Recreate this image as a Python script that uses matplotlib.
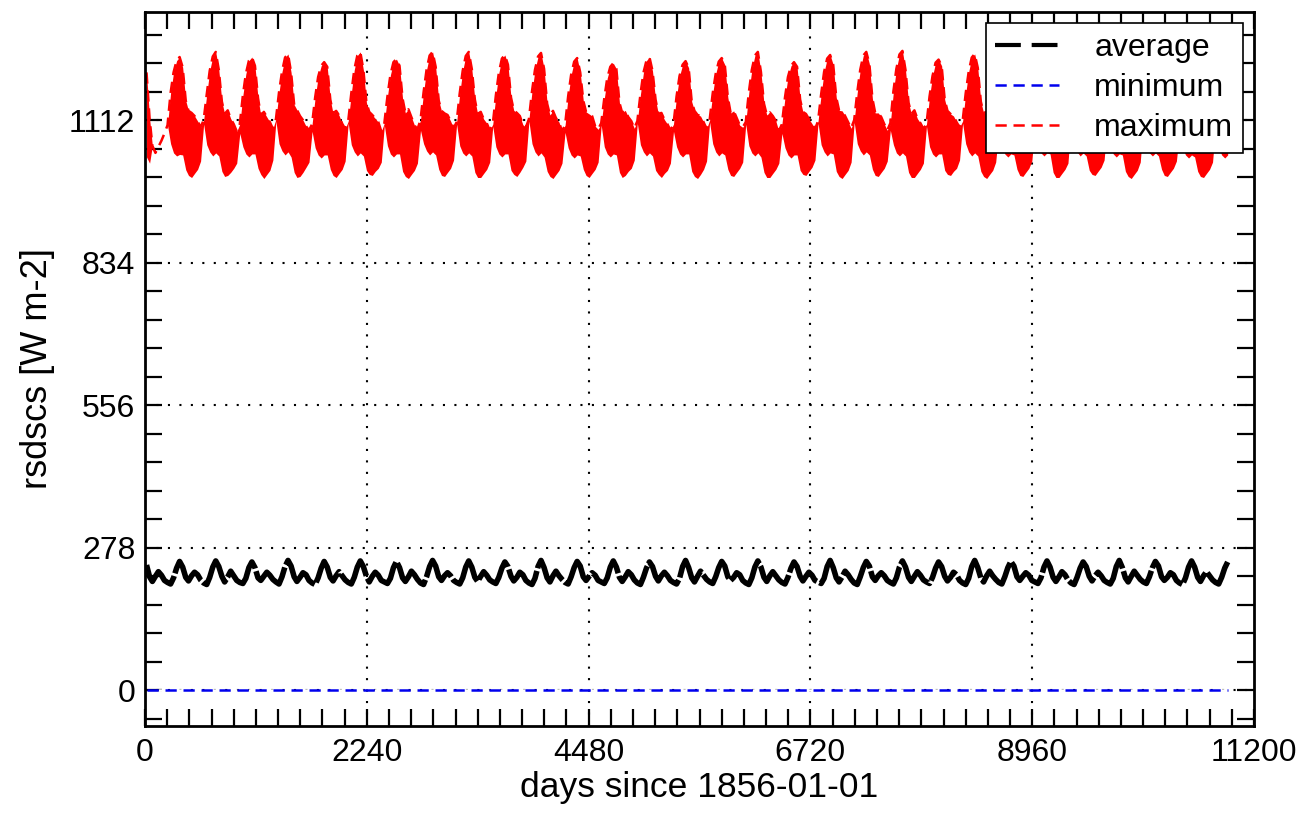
import matplotlib
matplotlib.use("Agg")
import matplotlib.pyplot as plt
from matplotlib.ticker import MultipleLocator

plt.rcParams['font.family'] = ['Liberation Sans', 'DejaVu Sans']

# sample days inside each year (mid-month), 30 years of 365 days
month_mid = [15, 46, 74, 105, 135, 166, 196, 227, 258, 288, 319, 349]
n_years = 30

# daily maximum, upper edge of the daily spread (Jan..Dec per row)
max_upper = [
    [1205, 1115, 1062, 1048, 1060, 1072, 1086, 1102, 1165, 1205, 1228, 1235],
    [1215, 1150, 1130, 1126, 1120, 1110, 1098, 1112, 1162, 1208, 1236, 1245],
    [1210, 1148, 1124, 1131, 1115, 1104, 1090, 1104, 1160, 1202, 1228, 1235],
    [1218, 1155, 1121, 1128, 1118, 1108, 1095, 1114, 1166, 1206, 1234, 1241],
    [1205, 1142, 1132, 1120, 1112, 1100, 1092, 1104, 1156, 1196, 1218, 1225],
    [1216, 1152, 1125, 1130, 1121, 1105, 1095, 1110, 1164, 1210, 1238, 1245],
    [1210, 1146, 1128, 1122, 1115, 1108, 1090, 1106, 1158, 1200, 1225, 1231],
    [1218, 1154, 1126, 1133, 1118, 1102, 1094, 1112, 1166, 1210, 1238, 1245],
    [1216, 1150, 1130, 1125, 1122, 1110, 1096, 1108, 1164, 1208, 1237, 1245],
    [1212, 1152, 1124, 1128, 1114, 1106, 1092, 1104, 1160, 1204, 1232, 1239],
    [1220, 1156, 1131, 1126, 1120, 1103, 1098, 1114, 1168, 1210, 1236, 1243],
    [1212, 1144, 1122, 1130, 1116, 1108, 1090, 1102, 1158, 1200, 1226, 1233],
    [1205, 1150, 1128, 1124, 1120, 1100, 1094, 1106, 1154, 1194, 1216, 1223],
    [1212, 1146, 1126, 1131, 1118, 1110, 1096, 1110, 1162, 1204, 1228, 1235],
    [1208, 1152, 1124, 1126, 1113, 1104, 1092, 1104, 1158, 1198, 1220, 1227],
    [1214, 1148, 1130, 1122, 1120, 1108, 1095, 1112, 1164, 1202, 1226, 1233],
    [1220, 1156, 1126, 1130, 1116, 1102, 1098, 1108, 1166, 1210, 1238, 1245],
    [1206, 1144, 1122, 1127, 1120, 1110, 1090, 1104, 1156, 1196, 1218, 1225],
    [1216, 1152, 1128, 1124, 1114, 1105, 1094, 1110, 1162, 1206, 1232, 1239],
    [1220, 1156, 1131, 1130, 1120, 1108, 1096, 1112, 1166, 1210, 1238, 1245],
    [1222, 1154, 1126, 1126, 1118, 1104, 1092, 1106, 1168, 1212, 1240, 1247],
    [1210, 1146, 1124, 1131, 1115, 1106, 1095, 1104, 1158, 1198, 1224, 1230],
    [1218, 1152, 1130, 1124, 1120, 1108, 1098, 1110, 1164, 1206, 1234, 1241],
    [1214, 1148, 1126, 1128, 1116, 1102, 1090, 1108, 1162, 1202, 1230, 1236],
    [1208, 1146, 1122, 1126, 1120, 1110, 1094, 1104, 1156, 1196, 1222, 1228],
    [1216, 1154, 1128, 1131, 1118, 1106, 1096, 1112, 1164, 1206, 1233, 1240],
    [1212, 1148, 1124, 1124, 1114, 1104, 1092, 1106, 1160, 1200, 1226, 1232],
    [1216, 1152, 1130, 1128, 1120, 1108, 1095, 1110, 1162, 1204, 1231, 1238],
    [1210, 1146, 1126, 1126, 1116, 1102, 1090, 1104, 1156, 1194, 1220, 1226],
    [1204, 1142, 1122, 1124, 1114, 1104, 1092, 1104, 1152, 1186, 1208, 1215],
]

# daily maximum, lower edge of the daily spread
max_lower = [
    [1040, 1028, 1062, 1048, 1060, 1072, 1086, 1102, 1066, 1048, 1042, 1045],
    [1044, 1015, 1004, 1000, 1008, 1016, 1032, 1104, 1064, 1050, 1042, 1048],
    [1042, 1012, 1002, 1004, 1010, 1018, 1028, 1086, 1060, 1046, 1040, 1046],
    [1046, 1018, 1006, 998, 1006, 1014, 1034, 1110, 1066, 1052, 1044, 1050],
    [1040, 1010, 1000, 1002, 1010, 1020, 1030, 1090, 1058, 1044, 1038, 1044],
    [1044, 1016, 1004, 1000, 1008, 1016, 1032, 1106, 1064, 1050, 1042, 1048],
    [1042, 1014, 1006, 1004, 1012, 1018, 1030, 1102, 1062, 1046, 1040, 1046],
    [1046, 1012, 1002, 998, 1006, 1014, 1028, 1092, 1066, 1052, 1044, 1050],
    [1044, 1016, 1004, 1002, 1010, 1018, 1034, 1104, 1062, 1048, 1042, 1048],
    [1042, 1010, 1000, 1000, 1008, 1016, 1030, 1100, 1060, 1046, 1040, 1046],
    [1046, 1014, 1006, 1002, 1010, 1020, 1032, 1110, 1066, 1050, 1042, 1048],
    [1040, 1012, 1002, 998, 1006, 1014, 1028, 1088, 1058, 1044, 1038, 1044],
    [1042, 1016, 1004, 1000, 1008, 1016, 1030, 1102, 1060, 1046, 1040, 1046],
    [1044, 1010, 1000, 1004, 1012, 1018, 1034, 1106, 1064, 1050, 1042, 1048],
    [1042, 1014, 1006, 1000, 1008, 1014, 1028, 1090, 1060, 1046, 1040, 1046],
    [1046, 1012, 1002, 998, 1006, 1016, 1032, 1108, 1066, 1050, 1042, 1048],
    [1044, 1016, 1004, 1002, 1010, 1018, 1030, 1104, 1062, 1048, 1042, 1048],
    [1040, 1010, 1000, 1000, 1008, 1016, 1028, 1086, 1058, 1044, 1038, 1044],
    [1044, 1014, 1006, 1004, 1012, 1020, 1034, 1106, 1064, 1050, 1042, 1048],
    [1046, 1012, 1002, 998, 1006, 1014, 1030, 1108, 1066, 1052, 1044, 1050],
    [1044, 1016, 1004, 1002, 1010, 1018, 1032, 1092, 1064, 1048, 1042, 1048],
    [1042, 1010, 1000, 1000, 1008, 1016, 1028, 1100, 1060, 1046, 1040, 1046],
    [1046, 1014, 1006, 1004, 1012, 1018, 1034, 1106, 1066, 1050, 1042, 1048],
    [1042, 1012, 1002, 998, 1006, 1014, 1030, 1090, 1060, 1046, 1040, 1046],
    [1044, 1016, 1004, 1002, 1010, 1018, 1032, 1100, 1062, 1048, 1042, 1048],
    [1046, 1010, 1000, 1000, 1008, 1016, 1028, 1108, 1066, 1050, 1042, 1048],
    [1042, 1014, 1006, 1004, 1012, 1020, 1034, 1102, 1060, 1046, 1040, 1046],
    [1044, 1012, 1002, 998, 1006, 1014, 1030, 1106, 1064, 1048, 1042, 1048],
    [1042, 1016, 1004, 1002, 1010, 1018, 1032, 1088, 1058, 1044, 1038, 1044],
    [1040, 1012, 1002, 1000, 1008, 1016, 1030, 1100, 1058, 1044, 1038, 1044],
]

# area average
avg_vals = [
    [244, 221, 212, 222, 231, 224, 214, 210, 207, 219, 238, 251],
    [240, 220, 213, 223, 230, 225, 215, 209, 206, 220, 240, 252],
    [241, 222, 211, 221, 232, 223, 214, 210, 208, 218, 239, 250],
    [239, 219, 214, 222, 230, 224, 216, 211, 207, 221, 241, 253],
    [242, 221, 212, 220, 229, 225, 214, 209, 206, 219, 238, 251],
    [240, 220, 213, 223, 231, 223, 215, 210, 207, 220, 240, 252],
    [241, 222, 211, 222, 230, 224, 214, 211, 208, 218, 239, 251],
    [239, 219, 212, 221, 232, 225, 216, 209, 206, 221, 241, 253],
    [242, 221, 214, 223, 229, 223, 214, 210, 207, 219, 240, 252],
    [240, 220, 212, 222, 231, 224, 215, 211, 208, 220, 238, 250],
    [241, 222, 213, 220, 230, 225, 214, 209, 206, 218, 241, 253],
    [239, 219, 211, 223, 232, 223, 216, 210, 207, 221, 239, 251],
    [242, 221, 214, 222, 229, 224, 214, 211, 208, 219, 240, 252],
    [240, 220, 212, 221, 231, 225, 215, 209, 206, 220, 238, 250],
    [241, 222, 213, 223, 230, 223, 214, 210, 207, 218, 241, 253],
    [239, 219, 211, 222, 232, 224, 216, 211, 208, 221, 239, 251],
    [242, 221, 214, 220, 229, 225, 214, 209, 206, 219, 240, 252],
    [240, 220, 212, 223, 231, 223, 215, 210, 207, 220, 238, 250],
    [241, 222, 213, 222, 230, 224, 214, 211, 208, 218, 241, 253],
    [239, 219, 211, 221, 232, 225, 216, 209, 206, 221, 239, 251],
    [242, 221, 214, 223, 229, 223, 214, 210, 207, 219, 240, 252],
    [240, 220, 212, 222, 231, 224, 215, 211, 208, 220, 238, 250],
    [241, 222, 213, 220, 230, 225, 214, 209, 206, 218, 241, 253],
    [239, 219, 211, 223, 232, 223, 216, 210, 207, 221, 239, 251],
    [242, 221, 214, 222, 229, 224, 214, 211, 208, 219, 240, 252],
    [240, 220, 212, 221, 231, 225, 215, 209, 206, 220, 238, 250],
    [241, 222, 213, 223, 230, 223, 214, 210, 207, 218, 241, 253],
    [239, 219, 211, 222, 232, 224, 216, 211, 208, 221, 239, 251],
    [242, 221, 214, 220, 229, 225, 214, 209, 206, 219, 240, 252],
    [240, 220, 212, 223, 231, 223, 215, 210, 207, 220, 238, 250],
]

x_ticks = [0, 2240, 4480, 6720, 8960, 11200]
y_ticks = [0, 278, 556, 834, 1112]

# flatten the yearly rows into one time axis
days = [yr * 365 + d for yr in range(n_years) for d in month_mid]
upper = [v for row in max_upper for v in row]
lower = [v for row in max_lower for v in row]
avg = [v for row in avg_vals for v in row]
minimum = [0.0 for _ in days]

fig = plt.figure(figsize=(13.09, 8.17), dpi=100)
ax = fig.add_axes([0.1108, 0.1114, 0.8472, 0.874])

# dotted grid under the data
for gx in x_ticks[1:-1]:
    ax.axvline(gx, color="black", lw=1.5, ls=(0, (1, 4.5)), zorder=1)
for gy in y_ticks:
    ax.axhline(gy, color="black", lw=1.5, ls=(0, (1, 4.5)), zorder=1)

ax.fill_between(days, lower, upper, color="#ff0000", lw=0, zorder=2)
ax.plot(days, upper, color="#ff0000", lw=1.8, dashes=(4.5, 2.7), zorder=2, label="maximum")
ax.plot(days, minimum, color="#0000ee", lw=1.8, dashes=(4.5, 2.7), gapcolor="white",
        zorder=3, label="minimum")
ax.plot(days, avg, color="black", lw=4, dashes=(10, 0.5), zorder=3, label="average")

ax.set_xlim(0, 11200)
ax.set_ylim(-70, 1323)
ax.set_xticks(x_ticks)
ax.set_yticks(y_ticks)
ax.xaxis.set_minor_locator(MultipleLocator(224))
ax.yaxis.set_minor_locator(MultipleLocator(55.6))
ax.tick_params(which="both", direction="in", top=True, right=True,
               length=12, width=1.6, labelsize=23)
ax.tick_params(axis="x", pad=9)
ax.tick_params(axis="y", pad=7)
for s in ax.spines.values():
    s.set_linewidth(2)

ax.set_xlabel("days since 1856-01-01", fontsize=25.5, labelpad=2)
ax.set_ylabel("rsdscs [W m-2]", fontsize=26, labelpad=10)

# legend in the reference order
leg_handles = [
    plt.Line2D([], [], color="black", lw=3, dashes=(6.2, 2.6)),
    plt.Line2D([], [], color="#0000ee", lw=1.8, dashes=(4.5, 2.7)),
    plt.Line2D([], [], color="#ff0000", lw=1.8, dashes=(4.5, 2.7)),
]
leg = ax.legend(leg_handles, ["average", "minimum", "maximum"], loc="upper right",
                fontsize=23, handlelength=2.0, handletextpad=1.1,
                borderaxespad=0.35, labelspacing=0.32, borderpad=0.3,
                fancybox=False, framealpha=1, edgecolor="black")
leg.get_frame().set_linewidth(1.2)
leg.set_zorder(5)

fig.savefig("out.png", dpi=100)
